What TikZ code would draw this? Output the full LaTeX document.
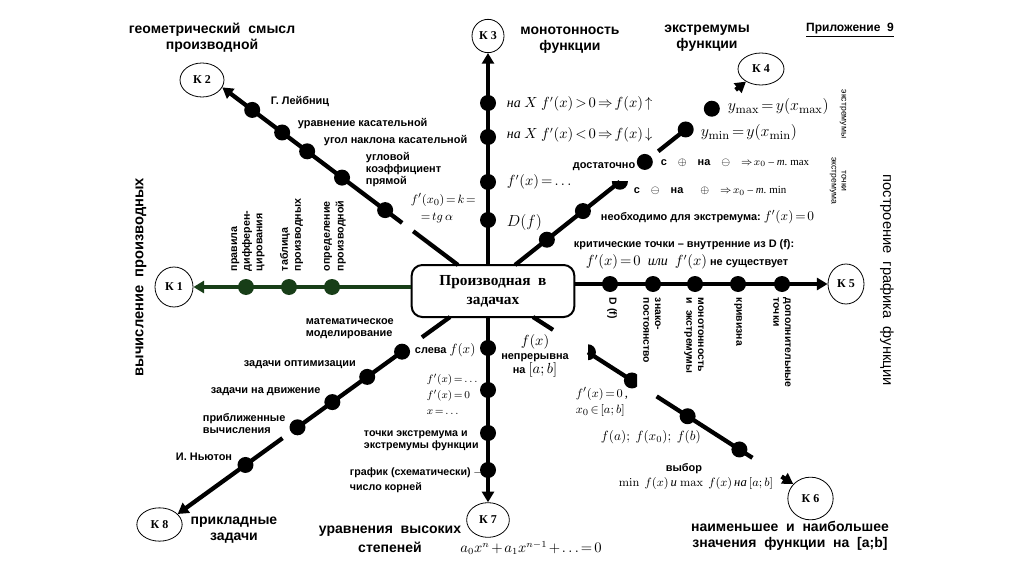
\documentclass[tikz,border=0pt]{standalone}
\usepackage[no-math]{fontspec}
\setmainfont{Liberation Sans}
\newfontfamily\tms{Liberation Serif}
\usetikzlibrary{calc,arrows.meta,shapes.geometric}
\definecolor{dgreen}{RGB}{24,62,24}
\thickmuskip=2.5mu plus 1mu
\medmuskip=2mu plus 1mu
\tikzset{
 ln/.style={line width=3.2pt},
 arr/.style={-{Triangle[length=8pt,width=9pt]}},
 dot/.style={circle,fill=black,minimum size=12pt,inner sep=0pt},
 gdot/.style={dot,fill=dgreen},
 kc/.style={ellipse,draw,line width=0.6pt,inner sep=0pt,font=\tms\bfseries\fontsize{9}{10}\selectfont},
 lbl/.style={font=\fontsize{8.2}{9.4}\selectfont\bfseries,inner sep=0.5pt,align=left,anchor=west},
 big/.style={font=\fontsize{10.5}{12}\selectfont\bfseries,inner sep=0pt,align=center},
 mth/.style={font=\tms\fontsize{10.5}{13}\selectfont,inner sep=0.5pt,align=left,anchor=west},
 rl/.style={font=\fontsize{7.8}{8.8}\selectfont\bfseries,inner sep=0.5pt,align=left,anchor=west},
}
\begin{document}
\begin{tikzpicture}[x=0.75pt,y=-0.75pt]
\path[fill=white,use as bounding box] (0,0) rectangle (1024,574);

% central box
\node[draw,line width=1.5pt,rounded corners=8pt,minimum width=122pt,minimum height=39pt,inner sep=2pt,align=center,font=\tms\bfseries\fontsize{11.5}{14}\selectfont] (box) at (493,291) {Производная\ \ в\\задачах};

% K nodes
\node[kc,minimum width=28.5pt,minimum height=30pt] (K1) at (174,287) {К 1};
\node[kc,minimum width=33pt,minimum height=25.5pt] (K2) at (202,80) {К 2};
\node[kc,minimum width=24pt,minimum height=25pt] (K3) at (488,36) {К 3};
\node[kc,minimum width=34.5pt,minimum height=24pt] (K4) at (761,69) {К 4};
\node[kc,minimum width=27pt,minimum height=30pt] (K5) at (846,284) {К 5};
\node[kc,minimum width=34pt,minimum height=32pt] (K6) at (810.5,498.5) {К 6};
\node[kc,minimum width=32pt,minimum height=26pt] (K7) at (488,520) {К 7};
\node[kc,minimum width=34pt,minimum height=25pt] (K8) at (159.5,524.5) {К 8};

% start points on the box
\coordinate (ul0) at (458,265);
\coordinate (ur0) at (515,265);
\coordinate (ll0) at (450,317);
\coordinate (lr0) at (533,317);

% vertical up (K3)
\draw[ln,arr] (box.north -| K3) -- (K3);
\foreach \y in {103,137,182,220} \node[dot] at (488,\y) {};
% vertical down (K7)
\draw[ln,arr] (box.south -| K7) -- (K7);
\foreach \y in {348,390,433,470} \node[dot] at (488,\y) {};
% left (K1)
\draw[ln,dgreen,arr] (box.west |- K1) -- (K1);
\foreach \x in {246,289,332} \node[gdot] at (\x,287) {};
% right (K5)
\draw[ln,arr] (box.east |- K5) -- (K5);
\foreach \x in {610,653,695,738,782} \node[dot] at (\x,284) {};

% upper left (K2)
\draw[ln] (ul0) -- ($(ul0)!0.19!(K2.-20)$);
\draw[ln,arr] ($(ul0)!0.237!(K2.-20)$) -- (K2.-20);
\foreach \t in {0.309,0.492,0.64,0.746,0.873} \node[dot] at ($(ul0)!\t!(K2.-20)$) {};

% upper right (K4)
\draw[ln] (ur0) -- ($(ur0)!0.454!(K4.220)$);
\foreach \t in {0.138,0.294} \node[dot] at ($(ur0)!\t!(K4.220)$) {};
\begin{scope}
\clip (600,182) rectangle (640,200);
\node[dot] at ($(ur0)!0.454!(K4.220)$) {};
\end{scope}
\node[dot] at ($(ur0)!0.562!(K4.220)$) {};
\draw[ln] ($(ur0)!0.62!(K4.220)$) -- ($(ur0)!0.739!(K4.220)$);
\foreach \t in {0.739,0.852} \node[dot] at ($(ur0)!\t!(K4.220)$) {};
\draw[ln,arr] ($(ur0)!0.955!(K4.220)$) -- (K4.220);

% lower right (K6)
\draw[ln] (lr0) -- ($(lr0)!0.077!(K6.140)$);
\begin{scope}
\clip (588,330) rectangle (610,370);
\node[dot] at ($(lr0)!0.211!(K6.140)$) {};
\end{scope}
\draw[ln] ($(lr0)!0.211!(K6.140)$) -- ($(lr0)!0.38!(K6.140)$);
\begin{scope}
\clip (615,365) rectangle (637,400);
\node[dot] at ($(lr0)!0.38!(K6.140)$) {};
\end{scope}
\draw[ln] ($(lr0)!0.475!(K6.140)$) -- ($(lr0)!0.843!(K6.140)$);
\foreach \t in {0.594,0.793} \node[dot] at ($(lr0)!\t!(K6.140)$) {};
\draw[ln,arr] ($(lr0)!0.955!(K6.140)$) -- (K6.140);

% lower left (K8)
\draw[ln] (ll0) -- ($(ll0)!0.103!(K8.30)$);
\draw[ln] ($(ll0)!0.176!(K8.30)$) -- ($(ll0)!0.56!(K8.30)$);
\draw[ln,arr] ($(ll0)!0.615!(K8.30)$) -- (K8.30);
\foreach \t in {0.176,0.304,0.432,0.56,0.751} \node[dot] at ($(ll0)!\t!(K8.30)$) {};

% titles
\node[big] (t2) at (212,38) {геометрический\ \ смысл\\производной};
\node[big] (t3) at (570,40) {монотонность\\функции};
\node[big] (t4) at (707,38) {экстремумы\\функции};
\node[font=\fontsize{9}{11}\selectfont\bfseries,inner sep=0pt] (app) at (850,30) {\underline{Приложение\ \ 9}};
\node[big] (t6) at (790,536) {наименьшее\ \ и\ \ наибольшее\\значения\ \ функции\ \ на\ \ [a;b]};
\node[big,font=\fontsize{10.5}{14}\selectfont\bfseries] (t7) at (390,539) {уравнения\ \ высоких\\степеней};
\node[big] (t8) at (234,530) {прикладные\\задачи};
\node[font=\fontsize{11}{13}\selectfont\bfseries,rotate=90,inner sep=0pt] (t1) at (141,277) {вычисление\ \ производных};
\node[font=\fontsize{11}{13}\selectfont,rotate=-90,inner sep=0pt] (t5) at (887,280) {построение\ \ графика\ \ функции};

% K2 labels
\node[lbl] at (270,102) {Г. Лейбниц};
\node[lbl] at (297,124) {уравнение касательной};
\node[lbl] at (323,141) {угол наклона касательной};
\node[lbl,font=\fontsize{8.2}{9}\selectfont\bfseries] at (365,170) {угловой\\коэффициент\\прямой};
\node[mth,font=\tms\fontsize{9.5}{12}\selectfont] at (410,200) {$f'(x_0)=k=$};
\node[mth,font=\tms\fontsize{9.5}{12}\selectfont] at (420,218) {$=tg\,\alpha$};

% K3 labels
\node[mth] at (506,104) {{\itshape на}\ $X\ f'(x)>0\Rightarrow f(x)\uparrow$};
\node[mth] at (506,135) {{\itshape на}\ $X\ f'(x)<0\Rightarrow f(x)\downarrow$};
\node[mth] at (506,182) {$f'(x)=\ldots$};
\node[mth,font=\tms\fontsize{13}{15}\selectfont] at (506,222) {$D(f)$};

% K4 labels
\node[mth,font=\tms\fontsize{12.5}{15}\selectfont] at (727,107) {$y_{\max}=y(x_{\max})$};
\node[mth,font=\tms\fontsize{12.5}{15}\selectfont] at (700,133) {$y_{\min}=y(x_{\min})$};
\node[lbl] at (572,167) {достаточно};
\node[lbl] at (660,163) {с\quad$\oplus$\quad на\quad$\ominus$\quad{\tms\mdseries$\Rightarrow x_0$ –\ {\itshape т.}\ max}};
\node[lbl] at (633,191) {с\quad$\ominus$\quad на\quad\ \ $\oplus$\quad{\tms\mdseries$\Rightarrow x_0$ –\ {\itshape т.}\ min}};
\node[lbl] at (600,217) {необходимо для экстремума:\ {\tms\mdseries\fontsize{10}{12}\selectfont$f'(x)=0$}};
\node[lbl] at (573,245) {критические точки – внутренние из D (f):};
\node[lbl] at (585,262) {{\tms\mdseries\fontsize{10.5}{12}\selectfont$f'(x)=0$\ \ {\itshape или}\ \ $f'(x)$}\ не существует};
\node[font=\fontsize{6.5}{7.5}\selectfont,rotate=-90,inner sep=0pt] at (843,114) {экстремумы};
\node[font=\fontsize{6.5}{7.5}\selectfont,rotate=-90,inner sep=0pt,align=center] at (838,181) {точки\\экстремума};

% K1 labels
\node[rl,rotate=90,font=\fontsize{8}{9.4}\selectfont\bfseries] at (248,272) {правила\\дифферен-\\цирования};
\node[rl,rotate=90,font=\fontsize{8}{9.8}\selectfont\bfseries] at (291.5,272) {таблица\\производных};
\node[rl,rotate=90,font=\fontsize{8}{10.3}\selectfont\bfseries] at (335,272) {определение\\производной};

% K5 labels
\node[rl,rotate=-90] at (612,297) {D (f)};
\node[rl,rotate=-90] at (652,297) {знако-\\постоянство};
\node[rl,rotate=-90] at (694,297) {монотонность\\и\ \ экстремумы};
\node[rl,rotate=-90] at (738,297) {кривизна};
\node[rl,rotate=-90] at (782,297) {дополнительные\\точки};

% K6 labels
\node[lbl,anchor=center,align=center,font=\fontsize{8.2}{10.5}\selectfont\bfseries] at (535,356) {{\tms\mdseries\fontsize{10.5}{12}\selectfont$f(x)$}\\непрерывна\\на {\tms\mdseries\fontsize{10.5}{12}\selectfont$[a;b]$}};
\node[mth,font=\tms\fontsize{9.5}{11.5}\selectfont] at (575,402) {$f'(x)=0$\,,\\$x_0\in[a;b]$};
\node[mth,font=\tms\fontsize{10}{12}\selectfont] at (600,437) {$f(a);\ f(x_0);\ f(b)$};
\node[lbl,anchor=center] at (684,469) {выбор};
\node[mth,anchor=center,font=\tms\fontsize{9.5}{12}\selectfont] at (696,483) {$\min\ f(x)\,${\itshape и}\ $\max\ f(x)\,${\itshape на}\,$[a;b]$};

% K7 labels
\node[lbl] at (414,350) {слева\ {\tms\mdseries\fontsize{10}{12}\selectfont$f(x)$}};
\node[mth,font=\tms\fontsize{8.5}{12}\selectfont] at (426,394) {$f'(x)=\ldots$\\$f'(x)=0$\\$x=\ldots$};
\node[lbl,font=\fontsize{8}{9}\selectfont\bfseries] at (363,441) {точки экстремума и\\экстремумы функции};
\node[lbl,font=\fontsize{8}{11}\selectfont\bfseries] at (349,480) {график (схематически) $\rightarrow$\\число корней};
\node[mth,anchor=center] at (531,548) {$a_0x^n+a_1x^{n-1}+\ldots=0$};

% K8 labels
\node[lbl,font=\fontsize{8.2}{9}\selectfont\bfseries] at (305,329) {математическое\\моделирование};
\node[lbl] at (243,365) {задачи оптимизации};
\node[lbl] at (210,392) {задачи на движение};
\node[lbl,font=\fontsize{8.2}{9}\selectfont\bfseries] at (202,424) {приближенные\\вычисления};
\node[lbl] at (175,457) {И. Ньютон};
\end{tikzpicture}
\end{document}
